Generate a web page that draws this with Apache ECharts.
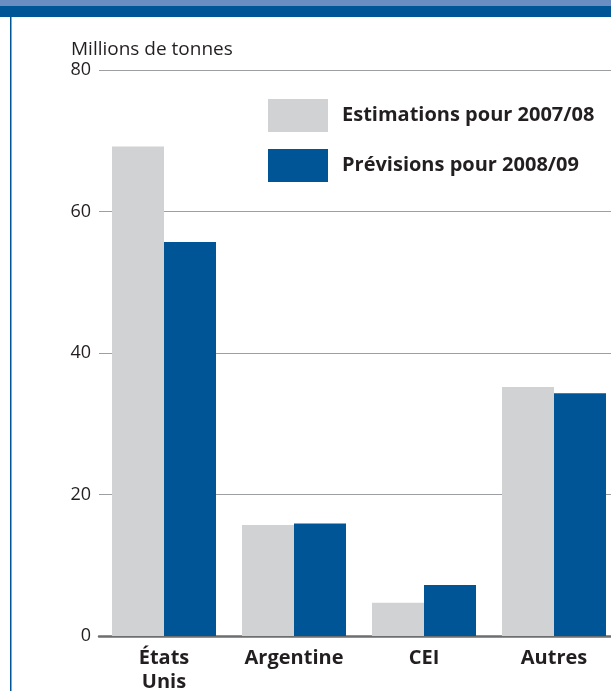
<!DOCTYPE html>
<html lang="fr">
<head>
<meta charset="utf-8">
<title>Millions de tonnes</title>
<script src="https://cdn.jsdelivr.net/npm/echarts@6/dist/echarts.min.js"></script>
<style>
  html, body { margin: 0; padding: 0; background: #ffffff; }
  #chart { width: 611px; height: 691px; }
</style>
</head>
<body>
<div id="chart"></div>
<script>
// Categories along the x axis
const categories = ['États\nUnis', 'Argentine', 'CEI', 'Autres'];
// Series names
const seriesNames = ['Estimations pour 2007/08', 'Prévisions pour 2008/09'];
// Values, millions of tonnes
const estimations = [69.2, 15.7, 4.7, 35.2];
const previsions = [55.7, 15.9, 7.2, 34.3];
// Value axis range
const yMin = 0, yMax = 80, yStep = 20;

const FONT = '"Open Sans", "Noto Sans", sans-serif';
const TEXT = '#231f20';
const GREY = '#d1d2d4';
const BLUE = '#005596';

const chart = echarts.init(document.getElementById('chart'), null, { renderer: 'canvas' });

chart.setOption({
  animation: false,
  backgroundColor: '#ffffff',
  textStyle: { fontFamily: FONT, color: TEXT },
  title: {
    text: 'Millions de tonnes',
    left: 71,
    top: 40,
    padding: 0,
    textStyle: { fontFamily: FONT, fontSize: 19, fontWeight: 'normal', color: TEXT }
  },
  graphic: [
    { type: 'rect', left: 0, top: 0, shape: { width: 611, height: 7 }, style: { fill: '#6a8ec1' }, silent: true },
    { type: 'rect', left: 0, top: 6, shape: { width: 611, height: 11 }, style: { fill: BLUE }, silent: true },
    { type: 'rect', left: 10, top: 17, shape: { width: 1.5, height: 674 }, style: { fill: BLUE }, silent: true }
  ],
  legend: {
    orient: 'vertical',
    left: 268,
    top: 99,
    padding: 0,
    itemWidth: 60,
    itemHeight: 33,
    itemGap: 17,
    icon: 'rect',
    selectedMode: false,
    data: seriesNames,
    textStyle: { fontFamily: FONT, fontSize: 20, fontWeight: 'bold', color: TEXT, padding: [0, 0, 0, 9] }
  },
  grid: { left: 99, top: 70, width: 520, bottom: 55, containLabel: false, outerBoundsMode: 'none' },
  xAxis: {
    type: 'category',
    data: categories,
    axisTick: { show: false },
    axisLine: { show: true, lineStyle: { color: '#6d6e70', width: 2.5 } },
    axisLabel: {
      fontFamily: FONT, fontSize: 20, fontWeight: 'bold', color: TEXT,
      margin: 10, lineHeight: 24, interval: 0
    }
  },
  yAxis: {
    type: 'value',
    min: yMin,
    max: yMax,
    interval: yStep,
    axisLine: { show: false },
    axisTick: { show: false },
    axisLabel: { fontFamily: FONT, fontSize: 18, color: TEXT, margin: 8 },
    splitLine: { show: true, lineStyle: { color: '#9d9fa2', width: 1.2 } }
  },
  series: [
    {
      name: seriesNames[0],
      type: 'bar',
      data: estimations,
      barWidth: 52,
      barGap: '0%',
      itemStyle: { color: GREY }
    },
    {
      name: seriesNames[1],
      type: 'bar',
      data: previsions,
      barWidth: 52,
      barGap: '0%',
      itemStyle: { color: BLUE }
    }
  ]
});
</script>
</body>
</html>
